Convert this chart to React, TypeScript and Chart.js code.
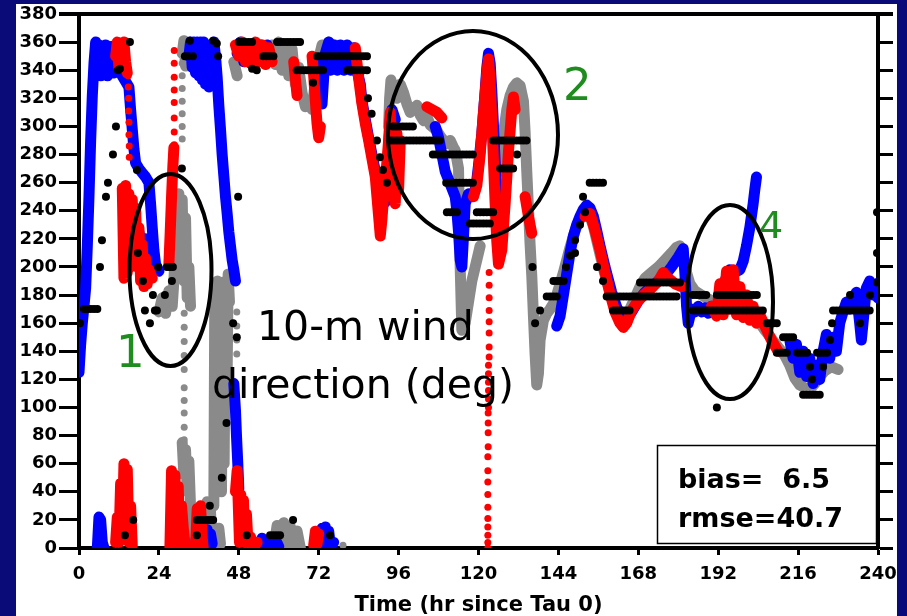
import React, { useEffect, useRef } from 'react';
import { Chart, registerables } from 'chart.js';

Chart.register(...registerables);

type P = [number, number] | null;

const xTickStep = 24;
const yTickStep = 20;
const xMax = 240;
const yMax = 380;
const xTitle = 'Time (hr since Tau 0)';

// Model run shown in blue (hour, direction deg); null = break in the trace
const blueTrack: P[] = [
  [0, 125], [0.5, 145], [1, 160], [1.5, 172], [2, 185], [2.5, 215], [3, 250], [3.5, 290], [4, 322], [4.5, 345], [5, 360],
  [5.5, 338], [6, 358], [6.5, 336], [7, 356], [7.5, 338], [8, 358], [8.5, 336], [9, 355], [9.5, 340], [10, 357], [10.5, 338],
  [11, 352], [12, 342], [13, 336], [14, 332], [15, 328], [15.5, 312], [16, 298], [16.5, 284], [17, 274], [18, 270], [19, 267],
  [20, 264], [21, 260], [21.5, 245], [22, 228], [22.5, 212], [23, 202], [24, 197],
  null,
  [16, 222], [17, 212], [18, 225], [19, 210], [20, 220], [21, 205],
  null,
  [5.5, 0], [6, 22], [6.5, 20], [7, 4], [7.5, 0],
  null,
  [33, 350], [33.5, 360], [34, 342], [34.5, 360], [35, 338], [35.5, 360], [36, 336], [36.5, 360], [37, 333], [37.5, 360],
  [38, 330], [38.5, 358], [39, 328], [39.5, 350], [40, 340], [40.5, 360], [41, 350], [41.5, 335], [42, 315], [42.5, 298],
  [43, 280], [43.5, 265], [44, 250], [44.5, 238], [45, 225], [45.5, 215], [46, 205], [46.5, 198], [47, 190],
  null,
  [46.5, 117], [47, 98], [47.3, 80], [47.7, 60], [48, 42],
  null,
  [35, 2], [35.5, 12], [36, 3], [36.5, 14], [37, 2], [37.5, 12], [38, 4], [38.5, 13], [39, 2], [39.5, 10], [40, 3],
  null,
  [47.5, 352], [48.5, 360], [49.5, 346], [50.5, 358], [51.5, 345], [52.5, 356], [53.5, 346], [54.5, 358], [55.5, 348], [56.5, 358], [57.5, 350],
  null,
  [54, 2], [55, 7], [56, 1], [57, 6], [58, 2], [59, 6], [60, 1],
  null,
  [72.5, 3], [73, 14], [73.5, 4], [74, 15], [74.5, 3], [75, 12], [75.5, 2], [76.5, 4],
  null,
  [72, 348], [72.5, 330], [73, 316], [73.5, 335], [74, 352], [75, 360], [75.5, 340], [76.5, 358], [77.5, 340], [78.5, 358],
  [79.5, 340], [80.5, 358], [81.5, 340], [82.5, 356], [83.5, 340], [84.5, 330], [85, 318], [86, 305], [87, 292], [88, 280],
  [89, 268], [90, 258], [91, 250], [92, 246], [92.5, 262], [93, 285], [93.5, 305], [94, 312], [95, 305],
  null,
  [107, 300], [108, 292], [109, 280], [110, 268], [111, 262], [112, 256], [113, 250],
  [113.5, 240], [114, 225], [114.5, 205], [115, 200], [115.5, 222], [116, 245], [117, 252], [118, 250], [119, 255],
  [119.5, 262], [120, 272], [121, 295], [122, 325], [122.5, 342], [123, 352], [123.5, 345], [124, 325], [124.5, 300],
  [125, 275], [125.5, 252], [126, 236], [126.5, 228],
  null,
  [143.5, 158], [144.5, 165], [145.5, 180], [146.5, 195], [147.5, 210], [148.5, 222], [149.5, 230], [150.5, 236], [151.5, 241],
  [152.5, 244], [153.5, 242], [154.5, 236], [155.5, 226], [156.5, 215], [158, 200], [160, 182], [162, 168], [164, 162],
  [166, 168], [168, 176], [170, 182], [172, 186], [174, 190], [176, 194], [178, 200], [180, 207], [181.5, 213], [182, 195],
  [182.5, 172], [183, 160], [184, 170], [185, 168], [186, 172], [187, 168], [188, 171], [189, 167], [190, 172], [191, 168],
  [192, 172], [193, 180], [194, 190], [195.5, 198], [197, 196], [198.5, 198], [199.5, 204], [200.5, 215], [201.5, 228],
  [202.5, 245], [203, 255], [203.5, 264],
  null,
  [213.5, 148], [214.5, 135], [215.5, 145], [216.5, 125], [217.5, 140], [218.5, 122], [219.5, 135], [220.5, 117], [221.5, 130],
  [222.5, 120], [223.5, 140], [224.5, 152], [225.5, 135], [226.5, 150], [227.5, 140], [228.5, 160], [229.5, 168], [230.5, 175],
  [231.5, 170], [232.5, 178], [233.5, 182], [234.5, 160], [235, 148], [235.5, 160], [236.5, 185], [237.5, 190], [238.5, 180],
  [239.5, 188], [240, 178],
];

// Model run shown in red
const redTrack: P[] = [
  [11, 350], [11.5, 360], [12, 342], [12.5, 358], [13, 344], [13.5, 360], [14, 346], [14.5, 338],
  null,
  [13, 256], [13.5, 192], [14, 258], [14.5, 196], [15, 252], [15.5, 200], [16, 248], [16.5, 204], [17, 242], [17.5, 200],
  [18, 228], [18.5, 190], [19, 216], [19.5, 186], [20, 206], [20.5, 188], [21, 198], [22, 192],
  null,
  [11, 4], [11.5, 22], [12, 4], [12.5, 46], [13, 8], [13.5, 60], [14, 12], [14.5, 56], [15, 4], [15.5, 30], [16, 2],
  null,
  [27, 202], [27.4, 225], [27.8, 250], [28.2, 272], [28.5, 285],
  null,
  [27.3, 0], [27.8, 55], [28.3, 8], [28.8, 52], [29.3, 4], [29.8, 44], [30.3, 3], [30.8, 30], [31.4, 12], [32, 0],
  null,
  [35, 0], [35.5, 28], [36, 4], [36.5, 30], [37, 8], [37.3, 0],
  null,
  [47, 40], [47.5, 55], [47.8, 34], [48.2, 4], [48.6, 38], [49, 8], [49.4, 34], [49.8, 4], [50.3, 24], [50.8, 2], [51.5, 8],
  [52.5, 1], [53.5, 4],
  null,
  [70.5, 2], [71, 12], [71.5, 3], [72, 10],
  null,
  [47, 358], [48, 350], [49, 360], [50, 346], [51, 358], [52, 345], [53, 360], [54, 346], [55, 358], [56, 344], [57, 356], [58, 346],
  null,
  [64.5, 346], [65, 334], [65.5, 322],
  null,
  [70, 350], [70.5, 336], [71, 318], [71.5, 302], [72, 292], [72.5, 300],
  null,
  [83, 356], [84, 334], [85, 316], [86, 302], [87, 290], [88, 277], [89, 264], [89.5, 250], [90, 236], [90.5, 222], [91, 234],
  [91.5, 250], [92, 262], [92.5, 275], [93, 290], [93.5, 310], [94, 250], [94.5, 300], [95, 245], [95.5, 295], [96, 255], [96.5, 290],
  null,
  [104.5, 314], [106, 312], [107.5, 310], [109, 306],
  null,
  [118.5, 250], [119.5, 258], [120.5, 280], [121.5, 310], [122.5, 338], [123, 348], [123.5, 332], [124, 305], [124.5, 275],
  [125, 245], [125.5, 218], [126, 202], [127, 212], [128, 245], [129, 282], [130, 312], [130.5, 321], [131, 312],
  null,
  [134, 250], [135, 236], [136, 224],
  null,
  [152, 236], [153.5, 238], [155, 226], [156.5, 212], [158, 196], [159.5, 181], [161, 168], [162.5, 160], [163.5, 157],
  [164.5, 160], [166, 169], [168, 176], [170, 181], [172, 185], [174, 190], [175.5, 196], [177, 192], [179, 188], [181, 186],
  null,
  [190, 172], [191.5, 165], [192.5, 188], [193.5, 166], [194.5, 197], [195.5, 170], [196.5, 198], [197.5, 166], [198.5, 186],
  [199.5, 164], [200.5, 180], [201.5, 162], [202.5, 172], [203.5, 160], [204.5, 166], [206, 158], [208, 148], [210, 140],
];

// Model run shown in grey
const grayTrack: P[] = [
  [31, 352], [31.5, 361], [32, 343], [32.5, 360], [33, 345], [33.5, 360], [34, 346], [34.5, 358], [35, 350],
  null,
  [24, 168], [25, 178], [26, 167], [27, 183], [28, 172], [28.5, 190], [29, 215], [29.5, 245], [30, 252], [30.5, 205], [31, 248],
  [31.5, 190], [32, 235], [32.5, 178], [33, 200], [33.5, 172],
  null,
  [31, 75], [31.5, 52], [32, 70], [32.5, 40], [33, 62], [33.5, 30], [34, 24], [34.5, 5], [35, 16], [35.5, 0],
  null,
  [37, 0], [37.5, 30], [38, 5], [38.5, 33], [39, 8], [39.5, 26], [40, 0],
  null,
  [40.5, 30], [40.8, 185], [41.2, 40], [41.6, 190], [42, 50], [42.4, 185], [42.8, 40], [43.2, 180], [43.6, 60], [44, 190],
  [44.4, 100], [44.8, 195], [45.2, 175],
  null,
  [40.5, 0], [41, 12], [41.5, 2], [42, 14], [42.5, 3],
  null,
  [46.5, 346], [47.5, 336],
  null,
  [58, 358], [59, 344], [60, 360], [61, 340], [62, 358], [63, 336], [64, 355], [65, 330], [66, 342], [67, 324], [68, 314],
  [69, 318], [70, 312], [71, 332], [72, 348], [73, 358], [74, 350], [75, 360], [76, 352], [77, 358], [78, 350], [79, 357], [80, 350],
  null,
  [58.5, 0], [59.5, 16], [60.5, 4], [61.5, 18], [62.5, 2], [63.5, 15], [64.5, 3], [65.5, 12], [66.5, 0],
  null,
  [93, 300], [93.3, 320], [93.7, 333], [94.5, 325], [95.5, 320], [96.5, 330], [97.5, 324], [98.5, 316], [99.5, 310],
  [100.5, 313], [101.5, 315], [102.5, 308], [103.5, 304], [104.5, 307], [105.5, 301], [106.5, 299], [107.5, 297],
  [108.5, 293], [109.5, 290], [110.5, 288], [111.5, 290], [112.5, 285], [113, 283], [114, 270], [114.5, 200], [115, 155],
  [116, 160], [117, 175], [118, 190], [119, 200], [120, 210], [120.5, 215],
  null,
  [126.5, 268], [127.5, 295], [128.5, 312], [129.5, 322], [130.5, 328], [131.5, 331], [132.5, 329], [133.5, 318], [134, 296],
  [134.5, 268], [135, 242], [135.5, 216], [136, 194], [136.5, 165], [137, 138], [137.5, 116], [138, 124], [138.5, 148],
  [139.5, 162], [140.5, 167], [141.5, 170], [142.5, 174], [143.5, 180], [144.5, 188], [145.5, 196], [146.5, 205], [147.5, 214],
  [148.5, 222], [149.5, 229], [150.5, 234], [151.5, 237], [152.5, 238], [153.5, 236], [154.5, 229], [155.5, 219], [156.5, 209],
  [157.5, 199], [158.5, 190], [159.5, 182], [160.5, 176], [161.5, 171], [162.5, 168], [164, 166], [165.5, 170], [167, 178],
  [168.5, 186], [170, 192], [172, 196], [174, 200], [176, 205], [178, 210], [179.5, 214], [180.5, 215], [181.5, 208],
  [182.5, 196], [183.5, 188], [185, 183], [187, 180], [190, 176], [193, 173], [196, 172], [199, 170], [202, 166], [204, 162],
  [206, 155], [208, 149], [210, 143], [212, 137], [213.5, 130], [215, 121], [216.5, 116], [218, 114], [219.5, 113],
  [221, 117], [222.5, 122], [224, 126], [226, 129], [228, 127],
];

// Fast swings drawn as separate dots
const redDots: [number, number][] = [
  [14.8, 336], [14.8, 328], [14.9, 320], [14.9, 311], [15, 303], [15, 294], [15.1, 286], [15.1, 278],
  [28.6, 354], [28.6, 345], [28.6, 335], [28.6, 326], [28.6, 317], [28.6, 306], [28.6, 296], [28.6, 287],
  [123.2, 196], [123.2, 187], [123.2, 178], [123.2, 169], [123.2, 161], [123.2, 153], [123.2, 143], [123.2, 136], [123, 130], [123, 124],
  [123, 118], [123, 112], [123, 106], [123, 100], [122.9, 96], [122.9, 89], [122.9, 82], [122.9, 72], [122.8, 65],
  [122.8, 55], [122.8, 47], [122.8, 38], [122.8, 29], [122.8, 21], [122.8, 15], [122.8, 9], [122.8, 4], [122.8, 0],
];

const grayDots: [number, number][] = [
  [31, 345], [31, 336], [31, 327], [31, 318], [31, 309], [31, 300], [31, 291],
  [31.6, 167], [31.6, 157], [31.6, 147], [31.6, 137], [31.6, 127], [31.6, 114], [31.6, 105], [31.6, 96], [31.6, 86], [31.6, 77],
  [47.4, 168], [47.4, 158], [47.4, 148], [47.4, 138],
  [79.3, 2],
];

// Observations (black)
const obsPoints: [number, number][] = [
  [0.3, 160], [1.5, 170], [2.5, 170], [3.5, 170], [4.5, 170], [5.5, 170],
  [6.3, 200], [6.9, 219], [8.1, 250], [8.7, 260], [10.2, 280], [11.1, 300], [11.7, 340], [12.3, 341], [15.3, 360],
  [13.8, 9], [16.3, 20],
  [17.4, 269], [17.7, 210], [19.2, 190], [19.8, 169], [21.3, 160], [22.2, 180], [22.8, 169], [23.4, 169], [23.8, 200],
  [25.8, 180], [26.4, 200], [27.3, 200], [27.9, 190], [28.2, 200],
  [30.9, 270], [31.8, 350], [32.8, 350], [33.3, 361], [34.2, 350],
  [35.4, 20], [36.4, 20], [37.4, 20], [38.4, 20], [39.4, 20], [40.3, 20], [35.4, 9], [39.3, 30], [42.9, 50], [44.3, 89],
  [46.3, 160], [47.4, 150], [47.8, 250],
  [40.3, 361], [41.4, 359], [41.8, 350],
  [48, 360], [49, 360], [50, 360], [51, 360], [52, 360], [50.4, 9], [52, 341], [53.4, 340],
  [55.3, 350], [56.3, 350], [57.3, 350], [58.4, 350],
  [57.4, 9], [58.4, 9], [59.4, 9], [60.4, 9],
  [59.5, 360], [60.5, 360], [61.5, 360], [62.5, 360], [63.5, 360], [64.5, 360], [65.5, 360], [66.4, 360],
  [64.3, 20], [65.4, 340],
  [66.5, 340], [67.5, 340], [68.5, 340], [69.5, 340], [70.5, 340], [71.5, 340], [72.5, 340], [73.3, 340], [70.3, 331],
  [71.5, 350], [72.5, 350], [73.5, 350], [74.5, 350], [75.5, 350], [76.5, 350], [77.5, 350], [78.5, 350], [79.5, 350],
  [80.5, 350], [81.5, 350], [82.5, 350], [83.5, 350], [84.5, 350], [85.5, 350], [86.5, 350],
  [75.4, 9],
  [80.5, 340], [81.5, 340], [82.5, 340], [83.5, 340], [84.5, 340], [85.5, 340], [86.5, 340],
  [86.8, 320], [87.9, 309], [89.5, 290], [90.4, 278], [91.3, 269], [92.5, 260],
  [94.3, 300], [95.3, 300], [96.3, 300], [97.3, 300], [98.3, 300], [99.3, 300], [100.3, 300],
  [93.4, 290], [94.4, 290], [95.4, 290], [96.4, 290], [97.4, 290], [98.4, 290], [99.4, 290], [100.4, 290], [101.4, 290],
  [102.4, 290], [103.4, 290], [104.4, 290], [105.4, 290], [106.4, 290], [107.4, 290], [108.4, 290],
  [106.3, 280], [107.3, 280], [108.3, 280], [109.3, 280], [110.3, 280], [111.3, 280], [112.3, 280], [113.3, 280], [114.3, 280],
  [115.3, 280], [116.3, 280], [117.3, 280], [118.3, 280],
  [110.3, 260], [111.3, 260], [112.3, 260], [113.3, 260], [114.3, 260], [115.3, 260], [116.3, 260], [117.3, 260], [118.3, 260],
  [110.5, 239], [111.5, 239], [112.5, 239], [113.5, 239],
  [119.5, 239], [120.5, 239], [121.5, 239], [122.5, 239], [123.5, 239], [124.4, 239],
  [117.4, 231], [118.4, 231], [119.4, 231], [120.4, 231], [121.4, 231], [122.4, 231], [123.4, 231],
  [124.4, 290], [125.4, 290], [126.4, 290], [127.4, 290], [128.4, 290], [129.4, 290], [130.4, 290], [131.4, 290],
  [132.4, 290], [133.4, 290], [134.4, 290],
  [126.5, 270], [127.5, 270], [128.5, 270], [129.5, 270], [130.4, 270], [131.6, 280],
  [136.2, 200], [137, 160], [138.5, 169], [140.5, 179], [141.5, 179], [142.5, 179], [143.5, 179],
  [142.5, 190], [143.5, 190], [144.5, 190], [145.6, 190], [146.3, 200], [147.5, 208], [149, 219], [149, 210], [150.5, 230],
  [152, 239], [151.4, 250], [153.4, 260], [154.4, 260], [155.4, 260], [156.4, 260], [157.4, 260], [155.6, 200], [157.4, 190],
  [158.5, 179], [159.5, 179], [160.5, 179], [161.5, 179], [162.5, 179], [163.5, 179], [164.5, 179], [165.5, 179], [166.5, 179],
  [167.5, 179], [168.5, 179], [169.5, 179], [170.5, 179], [171.5, 179], [172.5, 179], [173.5, 179], [174.5, 179], [175.5, 179],
  [176.5, 179], [177.5, 179], [178.5, 179], [179.5, 179],
  [160.4, 169], [161.4, 169], [162.4, 169], [163.4, 169], [164.4, 169], [165.4, 169],
  [168.5, 189], [169.5, 189], [170.5, 189], [171.5, 189], [172.5, 189], [173.5, 189], [174.5, 189], [175.5, 189], [176.5, 189],
  [177.5, 189], [178.5, 189], [179.5, 189], [180.5, 189],
  [184.4, 180], [185.4, 180], [186.4, 180], [187.4, 180], [188.4, 180],
  [184.4, 169], [185.4, 169], [186.4, 169], [187.4, 169], [188.4, 169], [189.4, 169], [190.4, 169], [191.4, 169], [192.4, 169],
  [193.4, 169], [194.4, 169], [195.4, 169], [196.4, 169], [197.4, 169], [198.4, 169], [199.4, 169], [200.4, 169], [201.4, 169],
  [202.4, 169], [203.4, 169], [204.4, 169], [205.4, 169],
  [191.6, 180], [192.6, 180], [193.6, 180], [194.6, 180], [195.6, 180], [196.6, 180], [197.6, 180], [198.6, 180], [199.6, 180],
  [200.6, 180], [201.6, 180], [202.6, 180], [203.6, 180],
  [191.6, 100],
  [206.6, 160], [207.6, 160], [208.6, 160], [209.6, 160],
  [211.5, 150], [212.5, 150], [213.5, 150], [214.5, 150],
  [209.6, 139], [210.6, 139], [211.6, 139], [212.6, 139],
  [215.7, 139], [216.7, 139], [217.7, 139], [218.7, 139],
  [219.6, 129], [220.2, 120],
  [217.5, 109], [218.5, 109], [219.5, 109], [220.5, 109], [221.5, 109], [222.5, 109],
  [221.7, 139], [222.7, 139], [223.7, 139], [224.7, 139],
  [223.5, 129], [225.6, 148], [226.2, 160],
  [226.5, 169], [227.5, 169], [228.5, 169], [229.5, 169], [230.5, 169], [231.5, 169], [232.5, 169], [233.5, 169], [234.5, 169],
  [235.5, 169], [236.5, 169], [237.5, 169],
  [231.6, 180], [234.6, 160], [237.6, 180], [239.7, 189], [239.7, 210], [239.7, 239],
];

const statsLines = ['bias=  6.5', 'rmse=40.7'];
const overlayLines = ['10-m wind', 'direction (deg)'];
const caseLabels = ['1', '2', '4'];

function toLine(track: P[]) {
  const out: { x: number; y: number | null }[] = [];
  let lastX = 0;
  for (const p of track) {
    if (p) {
      out.push({ x: p[0], y: p[1] });
      lastX = p[0];
    } else {
      out.push({ x: lastX, y: null });
    }
  }
  return out;
}

function toPts(pts: [number, number][]) {
  return pts.map((p) => ({ x: p[0], y: p[1] }));
}

const BLUE = '#0000ff';
const RED = '#ff0000';
const GRAY = '#8a8a8a';
const NAVY = '#0a0a78';
const GREEN = '#1e8c1e';

const tickFont = { family: 'DejaVu Sans', weight: 'bold' as const, size: 18 };

export default function App() {
  const canvasRef = useRef<HTMLCanvasElement | null>(null);

  useEffect(() => {
    if (!canvasRef.current) return;
    const lineDs = (data: any, color: string, order: number) => ({
      data,
      showLine: true,
      borderColor: color,
      backgroundColor: color,
      borderWidth: 11,
      borderJoinStyle: 'round' as const,
      borderCapStyle: 'round' as const,
      pointRadius: 0,
      spanGaps: false,
      order,
    });
    const dotDs = (data: any, color: string, r: number, order: number) => ({
      data,
      showLine: false,
      pointRadius: r,
      pointBackgroundColor: color,
      pointBorderColor: color,
      pointBorderWidth: 0,
      order,
    });

    const topBorder = {
      id: 'topBorder',
      afterDraw(chart: any) {
        const { ctx, chartArea } = chart;
        ctx.save();
        ctx.strokeStyle = '#000';
        ctx.lineWidth = 4;
        ctx.beginPath();
        ctx.moveTo(chartArea.left - 20, chartArea.top);
        ctx.lineTo(chartArea.right + 15, chartArea.top);
        ctx.stroke();
        ctx.restore();
      },
    };

    const chart = new Chart(canvasRef.current, {
      type: 'scatter',
      data: {
        datasets: [
          dotDs(toPts(obsPoints), '#000', 4, 0),
          dotDs(toPts(redDots), RED, 3.5, 1),
          lineDs(toLine(redTrack), RED, 2),
          lineDs(toLine(blueTrack), BLUE, 3),
          dotDs(toPts(grayDots), GRAY, 3.5, 4),
          lineDs(toLine(grayTrack), GRAY, 5),
        ] as any,
      },
      options: {
        responsive: false,
        animation: false,
        events: [],
        layout: { padding: { top: 14, left: 0, right: 14, bottom: 0 } },
        plugins: { legend: { display: false }, tooltip: { enabled: false } },
        scales: {
          x: {
            type: 'linear',
            position: 'bottom',
            min: 0,
            max: xMax,
            ticks: { stepSize: xTickStep, color: '#000', font: tickFont, padding: 9, maxRotation: 0, autoSkip: false },
            grid: { drawOnChartArea: false, drawTicks: true, tickLength: 7, tickWidth: 3, tickColor: '#000' },
            border: { display: true, color: '#000', width: 4 },
            title: {
              display: true,
              text: xTitle,
              color: '#000',
              font: { family: 'DejaVu Sans', weight: 'bold', size: 21, lineHeight: 1 },
              padding: { top: 0, bottom: 0 },
            },
            afterFit: (s: any) => {
              s.height = 68;
            },
          },
          y: {
            type: 'linear',
            position: 'left',
            min: 0,
            max: yMax,
            ticks: { stepSize: yTickStep, color: '#000', font: tickFont, padding: 2 },
            grid: { drawOnChartArea: false, drawTicks: true, tickLength: 20, tickWidth: 3, tickColor: '#000' },
            border: { display: true, color: '#000', width: 4 },
            afterFit: (s: any) => {
              s.width = 79;
            },
          },
          y2: {
            type: 'linear',
            position: 'right',
            min: 0,
            max: yMax,
            ticks: { stepSize: yTickStep, display: false },
            grid: { drawOnChartArea: false, drawTicks: true, tickLength: 15, tickWidth: 3, tickColor: '#000' },
            border: { display: true, color: '#000', width: 4 },
            afterFit: (s: any) => {
              s.width = 15;
            },
          },
        },
      } as any,
      plugins: [topBorder],
    });
    return () => chart.destroy();
  }, []);

  return (
    <div style={{ position: 'fixed', left: 0, top: 0, width: 907, height: 616, background: NAVY, overflow: 'hidden' }}>
      <div style={{ position: 'absolute', left: 16, top: 4, width: 881, height: 612, background: '#fff' }} />
      <canvas ref={canvasRef} width={907} height={616} style={{ position: 'absolute', left: 0, top: 0, width: 907, height: 616 }} />
      <svg width={907} height={616} style={{ position: 'absolute', left: 0, top: 0, pointerEvents: 'none' }}>
        <ellipse cx={170.5} cy={270} rx={41} ry={96} fill="none" stroke="#000" strokeWidth={4} />
        <ellipse cx={473} cy={135} rx={85} ry={104} fill="none" stroke="#000" strokeWidth={4} />
        <ellipse cx={730} cy={302} rx={43} ry={97} fill="none" stroke="#000" strokeWidth={4} />
        <text x={257} y={340} fontFamily="DejaVu Sans" fontSize={41} fill="#000">{overlayLines[0]}</text>
        <text x={212} y={398} fontFamily="DejaVu Sans" fontSize={41} fill="#000">{overlayLines[1]}</text>
        <text x={116} y={367} fontFamily="DejaVu Sans" fontSize={45} fill={GREEN}>{caseLabels[0]}</text>
        <text x={563} y={100} fontFamily="DejaVu Sans" fontSize={45} fill={GREEN}>{caseLabels[1]}</text>
        <text x={759} y={238} fontFamily="DejaVu Sans" fontSize={38} fill={GREEN}>{caseLabels[2]}</text>
        <rect x={657.5} y={445.5} width={219} height={98} fill="#fff" stroke="#000" strokeWidth={1.5} />
        <text x={678} y={488} fontFamily="DejaVu Sans" fontWeight="bold" fontSize={27} fill="#000" style={{ whiteSpace: 'pre' }}>{statsLines[0]}</text>
        <text x={678} y={527} fontFamily="DejaVu Sans" fontWeight="bold" fontSize={27} fill="#000" style={{ whiteSpace: 'pre' }}>{statsLines[1]}</text>
      </svg>
    </div>
  );
}
